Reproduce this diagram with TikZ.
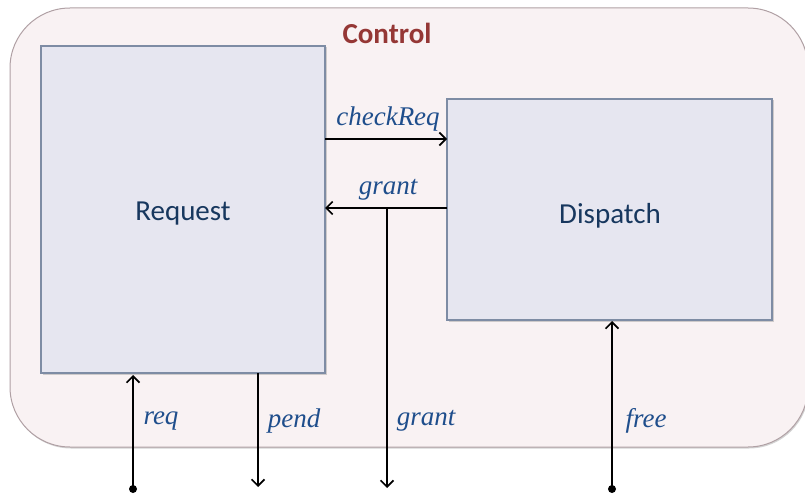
\documentclass[tikz,border=0pt]{standalone}
\usepackage{fontspec}
\setmainfont{Liberation Serif}
\newfontfamily\boxfont{Carlito}
\usetikzlibrary{arrows.meta,shadows}
\definecolor{outerfill}{HTML}{F9F2F3}
\definecolor{outerline}{HTML}{B0A0A4}
\definecolor{innerfill}{HTML}{E6E6F0}
\definecolor{innerline}{HTML}{7E8CA4}
\definecolor{titlered}{HTML}{953735}
\definecolor{labelblue}{HTML}{1F4E8C}
\definecolor{boxblue}{HTML}{17375E}
\tikzset{
  x=1pt, y=-1pt,
  container/.style={draw=outerline, line width=1pt, fill=outerfill, rounded corners=60pt,
    drop shadow={shadow xshift=1pt, shadow yshift=-1.5pt, opacity=0.35, fill=gray}},
  block/.style={draw=innerline, line width=1.2pt, fill=innerfill,
    drop shadow={shadow xshift=1.5pt, shadow yshift=-1.5pt, opacity=0.35, fill=gray}},
  blocktext/.style={font=\boxfont\fontsize{29}{32}\selectfont, text=boxblue},
  sig/.style={font=\itshape\fontsize{27}{30}\selectfont, text=labelblue, inner sep=0pt},
  wire/.style={line width=1.7pt, -{Straight Barb[length=6.5pt,width=13pt,line width=1.7pt]}},
  pin/.style={circle, fill=black, inner sep=0pt, minimum size=8pt},
}
\begin{document}
\begin{tikzpicture}
\useasboundingbox (0,0) rectangle (805,494);
% enclosing block
\draw[container] (10,8) rectangle (808,447);
\node[font=\boxfont\bfseries\fontsize{29}{32}\selectfont, text=titlered] (title) at (387,33) {Control};
% sub-blocks
\draw[block] (41,46) rectangle (325,373);
\node[blocktext] (reqlbl) at (183,214) {Request};
\draw[block] (447,99) rectangle (772,320);
\node[blocktext] (displbl) at (610,216) {Dispatch};
% internal connections
\coordinate (cr0) at (325,139);
\coordinate (cr1) at (447,139);
\coordinate (gr0) at (447,208);
\coordinate (gr1) at (325,208);
\coordinate (gtap) at (387,208);
\coordinate (gout) at (387,488);
\draw[wire] (cr0) -- (cr1);
\node[sig] (lcheck) at (388,119) {checkReq};
\draw[wire] (gr0) -- (gr1);
\node[sig] (lgrant) at (388,190) {grant};
\draw[wire] (gtap) -- (gout);
\node[sig] (lgrant2) at (426,421) {grant};
% external ports
\node[pin] (preq) at (133,489) {};
\coordinate (reqin) at (133,375);
\draw[wire] (preq.center) -- (reqin);
\node[sig] (lreq) at (161,421) {req};
\coordinate (pend0) at (258,373);
\coordinate (pend1) at (258,487);
\draw[wire] (pend0) -- (pend1);
\node[sig] (lpend) at (294,421) {pend};
\node[pin] (pfree) at (612,489) {};
\coordinate (freein) at (612,321);
\draw[wire] (pfree.center) -- (freein);
\node[sig] (lfree) at (646,421) {free};
\end{tikzpicture}
\end{document}
